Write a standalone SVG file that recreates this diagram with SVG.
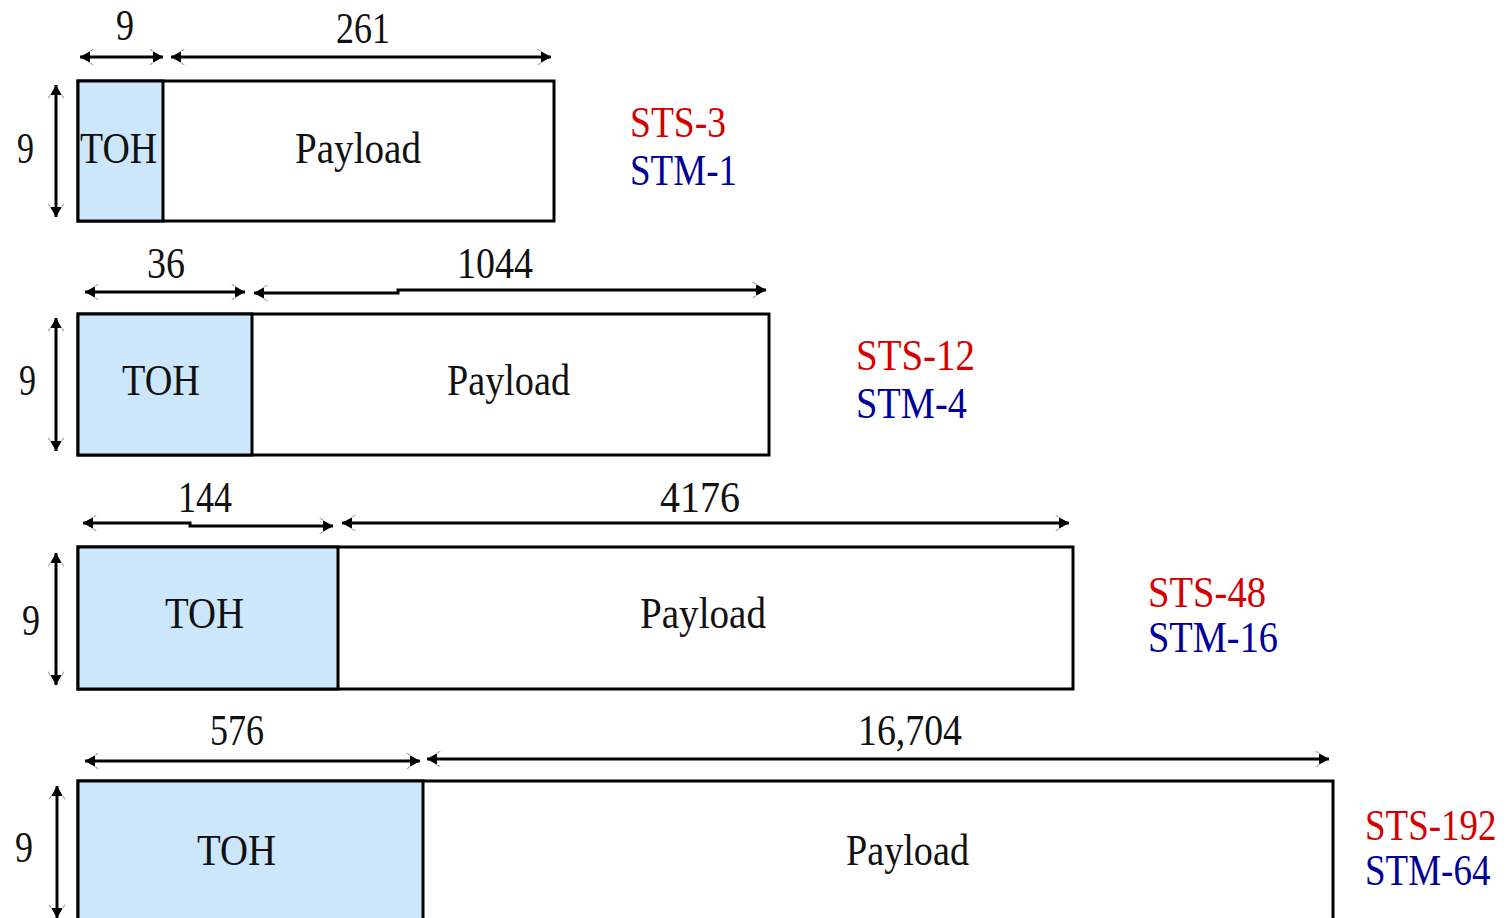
<svg xmlns="http://www.w3.org/2000/svg" width="1508" height="918" viewBox="0 0 1508 918">
<defs>
<style>
.box{fill:#fff;stroke:#000;stroke-width:3}
.toh{fill:#cce7fb;stroke:#000;stroke-width:3}
.t{font-family:"Liberation Serif","Times New Roman",serif;font-size:44px;fill:#111}
.s{font-family:"Liberation Serif","Times New Roman",serif;font-size:37px}
.red{fill:#d40000}
.blue{fill:#000099}
.dim{fill:none;stroke:#000;stroke-width:3;marker-start:url(#ah);marker-end:url(#ah)}
</style>
<marker id="ah" markerUnits="userSpaceOnUse" viewBox="0 -9 15 18" refX="15" refY="0" markerWidth="15" markerHeight="18" orient="auto-start-reverse">
<path d="M15,0 L1,-8 L4,-7 L8,0 L4,7 L1,8 z" fill="#000"/>
<path d="M15,0 L5,-5 L5,5 z" fill="#000"/>
</marker>
</defs>
<rect width="1508" height="918" fill="#fff"/>

<g id="connectors">
<path class="dim" d="M80,57 H163"/>
<path class="dim" d="M171,57 H551"/>
<path class="dim" d="M56,85 V217"/>

<path class="dim" d="M85,292 H245"/>
<path class="dim" d="M254,293 H398 V290 H766"/>
<path class="dim" d="M56,318 V451"/>

<path class="dim" d="M83,523 H190 V526 H333"/>
<path class="dim" d="M342,523 H1069"/>
<path class="dim" d="M56,553 V685"/>

<path class="dim" d="M85,761 H420"/>
<path class="dim" d="M427,759 H1329"/>
<path class="dim" d="M57,786 V918"/>
</g>

<g id="sts3">
<rect class="box" x="78" y="81" width="476" height="140"/>
<rect class="toh" x="78" y="81" width="85" height="140"/>
<text class="t" x="116" y="40" textLength="18" lengthAdjust="spacingAndGlyphs">9</text>
<text class="t" x="336" y="43" textLength="54" lengthAdjust="spacingAndGlyphs">261</text>
<text class="t" x="17" y="163" textLength="17" lengthAdjust="spacingAndGlyphs">9</text>
<text class="t" x="80" y="163" textLength="77" lengthAdjust="spacingAndGlyphs">TOH</text>
<text class="t" x="295" y="163" textLength="126" lengthAdjust="spacingAndGlyphs">Payload</text>
<text class="t red" x="630" y="137" textLength="96" lengthAdjust="spacingAndGlyphs">STS-3</text>
<text class="t blue" x="630" y="185" textLength="107" lengthAdjust="spacingAndGlyphs">STM-1</text>
</g>

<g id="sts12">
<rect class="box" x="78" y="314" width="691" height="141"/>
<rect class="toh" x="78" y="314" width="174" height="141"/>
<text class="t" x="147" y="278" textLength="38" lengthAdjust="spacingAndGlyphs">36</text>
<text class="t" x="457" y="278" textLength="76" lengthAdjust="spacingAndGlyphs">1044</text>
<text class="t" x="19" y="395" textLength="17" lengthAdjust="spacingAndGlyphs">9</text>
<text class="t" x="122" y="395" textLength="78" lengthAdjust="spacingAndGlyphs">TOH</text>
<text class="t" x="447" y="395" textLength="123" lengthAdjust="spacingAndGlyphs">Payload</text>
<text class="t red" x="856" y="370" textLength="119" lengthAdjust="spacingAndGlyphs">STS-12</text>
<text class="t blue" x="856" y="418" textLength="111" lengthAdjust="spacingAndGlyphs">STM-4</text>
</g>

<g id="sts48">
<rect class="box" x="78" y="547" width="995" height="142"/>
<rect class="toh" x="78" y="547" width="260" height="142"/>
<text class="t" x="178" y="512" textLength="54" lengthAdjust="spacingAndGlyphs">144</text>
<text class="t" x="660" y="512" textLength="80" lengthAdjust="spacingAndGlyphs">4176</text>
<text class="t" x="22" y="635" textLength="18" lengthAdjust="spacingAndGlyphs">9</text>
<text class="t" x="165" y="628" textLength="79" lengthAdjust="spacingAndGlyphs">TOH</text>
<text class="t" x="640" y="628" textLength="126" lengthAdjust="spacingAndGlyphs">Payload</text>
<text class="t red" x="1148" y="607" textLength="118" lengthAdjust="spacingAndGlyphs">STS-48</text>
<text class="t blue" x="1148" y="652" textLength="130" lengthAdjust="spacingAndGlyphs">STM-16</text>
</g>

<g id="sts192">
<rect class="box" x="78" y="781" width="1255" height="160"/>
<rect class="toh" x="78" y="781" width="345" height="160"/>
<text class="t" x="210" y="745" textLength="54" lengthAdjust="spacingAndGlyphs">576</text>
<text class="t" x="858" y="745" textLength="104" lengthAdjust="spacingAndGlyphs">16,704</text>
<text class="t" x="15" y="862" textLength="18" lengthAdjust="spacingAndGlyphs">9</text>
<text class="t" x="197" y="865" textLength="79" lengthAdjust="spacingAndGlyphs">TOH</text>
<text class="t" x="846" y="865" textLength="123" lengthAdjust="spacingAndGlyphs">Payload</text>
<text class="s red" transform="translate(1365,840) scale(1,1.2)">STS-192</text>
<text class="s blue" transform="translate(1365,885) scale(1,1.2)">STM-64</text>
</g>
</svg>
